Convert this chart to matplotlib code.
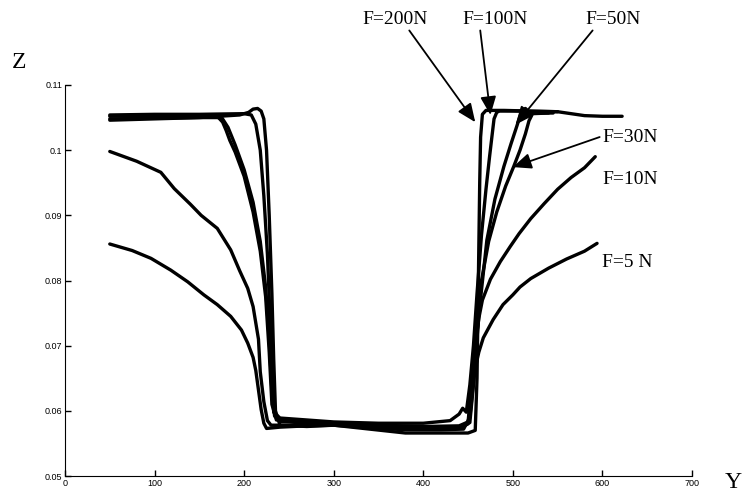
import matplotlib.pyplot as plt

# profile data: Y position vs Z height, one per load
y_5 = [50, 75, 96, 118, 137, 155, 170, 185, 197, 204, 210, 213, 216, 219, 222, 225,
       240, 270, 300, 340, 380, 420, 445, 452,
       455, 458, 462, 467, 478, 489, 500, 508, 520, 540, 560, 580, 594]
z_5 = [0.0856, 0.0846, 0.0834, 0.0816, 0.0798, 0.0778, 0.0763, 0.0745, 0.0724, 0.0704, 0.0682, 0.0662, 0.0632, 0.0602, 0.0581, 0.0573,
       0.0575, 0.0577, 0.0578, 0.0574, 0.0571, 0.0571, 0.0572, 0.0590,
       0.0630, 0.0665, 0.0690, 0.0712, 0.0740, 0.0763, 0.0778, 0.0790, 0.0803, 0.0819, 0.0833, 0.0845, 0.0857]

y_10 = [50, 80, 107, 122, 140, 152, 170, 185, 195, 204, 210, 216, 218, 222, 226, 230,
        250, 300, 350, 400, 440, 450,
        455, 458, 462, 466, 475, 486, 497, 507, 520, 535, 550, 565, 580, 592]
z_10 = [0.0998, 0.0983, 0.0966, 0.0941, 0.0917, 0.0900, 0.0880, 0.0847, 0.0815, 0.0788, 0.0760, 0.0710, 0.0660, 0.0614, 0.0585, 0.0578,
        0.0578, 0.0579, 0.0575, 0.0572, 0.0573, 0.0580,
        0.0640, 0.0700, 0.0742, 0.0770, 0.0802, 0.0829, 0.0852, 0.0872, 0.0895, 0.0918, 0.0940, 0.0958, 0.0973, 0.0990]

y_30 = [50, 100, 150, 175, 182, 190, 200, 210, 218, 224, 228, 231, 234, 240,
        270, 300, 350, 400, 440, 452,
        456, 460, 465, 473, 482, 492, 501, 508, 514, 518, 522, 540]
z_30 = [0.1048, 0.1049, 0.1050, 0.1050, 0.1035, 0.1008, 0.0970, 0.0920, 0.0860, 0.0790, 0.0710, 0.0630, 0.0592, 0.0584,
        0.0581, 0.0580, 0.0577, 0.0574, 0.0575, 0.0582,
        0.0640, 0.0720, 0.0800, 0.0860, 0.0905, 0.0945, 0.0975, 0.1000, 0.1025, 0.1045, 0.1056, 0.1057]

y_50 = [50, 100, 150, 170, 176, 180, 184, 190, 200, 210, 218, 224, 228, 231, 236,
        260, 300, 350, 400, 440, 450,
        454, 458, 463, 471, 480, 490, 498, 504, 508, 511, 514, 517, 520, 545]
z_50 = [0.1052, 0.1053, 0.1053, 0.1052, 0.1043, 0.1030, 0.1015, 0.0997, 0.0960, 0.0905, 0.0845, 0.0775, 0.0690, 0.0610, 0.0586,
        0.0583, 0.0581, 0.0578, 0.0576, 0.0577, 0.0583,
        0.0640, 0.0680, 0.0760, 0.0862, 0.0925, 0.0975, 0.1010, 0.1035, 0.1052, 0.1062, 0.1064, 0.1060, 0.1057, 0.1057]

y_100 = [50, 100, 150, 200, 208, 213, 218, 222, 226, 229, 231, 233, 240,
         270, 300, 350, 400, 430, 440, 444, 448,
         452, 456, 460, 465, 470, 474, 477, 479, 482, 485, 500, 550]
z_100 = [0.1054, 0.1055, 0.1055, 0.1056, 0.1054, 0.1040, 0.1000, 0.0930, 0.0840, 0.0740, 0.0650, 0.0598, 0.0589,
         0.0586, 0.0583, 0.0581, 0.0581, 0.0585, 0.0595, 0.0604, 0.0598,
         0.0640, 0.0700, 0.0780, 0.0870, 0.0940, 0.0990, 0.1025, 0.1048, 0.1058, 0.1060, 0.1060, 0.1059]

y_200 = [50, 100, 150, 195, 205, 210, 215, 219, 222, 225, 228, 231, 233, 235, 240,
         270, 300, 340, 380, 420, 450, 458,
         460, 461, 462, 463, 464, 466, 470, 490, 520, 550, 565, 580, 600, 622]
z_200 = [0.1046, 0.1048, 0.1050, 0.1054, 0.1058, 0.1063, 0.1064, 0.1060, 0.1048, 0.1000, 0.0900, 0.0780, 0.0680, 0.0600, 0.0578,
         0.0576, 0.0578, 0.0572, 0.0566, 0.0566, 0.0566, 0.0570,
         0.0650, 0.0750, 0.0850, 0.0950, 0.1020, 0.1055, 0.1061, 0.1061, 0.1060, 0.1059, 0.1056, 0.1053, 0.1052, 0.1052]

x_ticks = [0, 100, 200, 300, 400, 500, 600, 700]
z_ticks = [0.05, 0.06, 0.07, 0.08, 0.09, 0.1, 0.11]
z_tick_labels = ["0.05", "0.06", "0.07", "0.08", "0.09", "0.1", "0.11"]

fig = plt.figure(figsize=(7.42, 4.91), dpi=100)
ax = fig.add_axes([0.0876, 0.0305, 0.8450, 0.7964])

for ys, zs in [(y_5, z_5), (y_10, z_10), (y_30, z_30), (y_50, z_50), (y_100, z_100), (y_200, z_200)]:
    ax.plot(ys, zs, color="black", linewidth=2.4, solid_joinstyle="round", solid_capstyle="round")

ax.set_xlim(0, 700)
ax.set_ylim(0.05, 0.11)
ax.set_xticks(x_ticks)
ax.set_yticks(z_ticks)
ax.set_yticklabels(z_tick_labels)
ax.tick_params(direction="in", length=4, width=1, labelsize=6.5, pad=2)
for lab in ax.get_xticklabels() + ax.get_yticklabels():
    lab.set_family("Liberation Sans")
ax.spines["top"].set_visible(False)
ax.spines["right"].set_visible(False)

serif = "Liberation Serif"
fig.text(19 / 742, 1 - 63 / 491, "Z", family=serif, fontsize=17, ha="center", va="center")
fig.text(733 / 742, 1 - 482 / 491, "Y", family=serif, fontsize=17, ha="center", va="center")

arrow = dict(arrowstyle="-|>,head_length=0.7,head_width=0.3", color="black", lw=1.3,
             mutation_scale=16, shrinkA=0, shrinkB=0)

# labels with arrows (tip, text position, where the arrow leaves the text)
ax.annotate("F=200N", xy=(458, 0.1043), xytext=(369, 0.1201), ha="center", va="center",
            family=serif, fontsize=14, annotation_clip=False,
            arrowprops=dict(arrow, relpos=(0.68, 0.0)))
ax.annotate("F=100N", xy=(475, 0.1054), xytext=(480, 0.1201), ha="center", va="center",
            family=serif, fontsize=14, annotation_clip=False,
            arrowprops=dict(arrow, relpos=(0.27, 0.0)))
ax.annotate("F=50N", xy=(503, 0.1039), xytext=(612, 0.1201), ha="center", va="center",
            family=serif, fontsize=14, annotation_clip=False,
            arrowprops=dict(arrow, relpos=(0.17, 0.0)))
ax.annotate("F=30N", xy=(500, 0.0974), xytext=(600, 0.1019), ha="left", va="center",
            family=serif, fontsize=14, annotation_clip=False,
            arrowprops=dict(arrow, relpos=(0.0, 0.6)))
ax.text(600, 0.0955, "F=10N", ha="left", va="center", family=serif, fontsize=14)
ax.text(600, 0.0827, "F=5 N", ha="left", va="center", family=serif, fontsize=14)

fig.savefig("out.png", dpi=100)
